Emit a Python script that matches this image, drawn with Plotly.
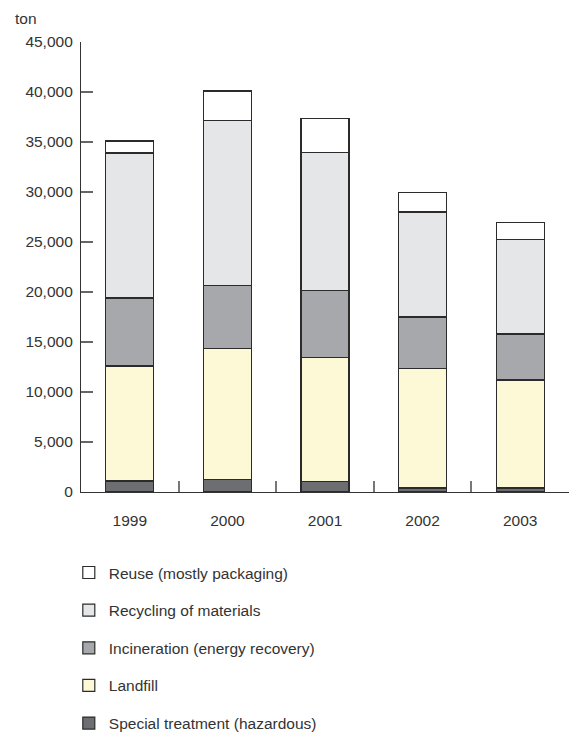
import plotly.graph_objects as go

# Waste volumes by treatment method, tonnes per year
years = ["1999", "2000", "2001", "2002", "2003"]
special_treatment = [1100, 1270, 1030, 400, 400]
landfill = [11500, 13060, 12400, 11970, 10800]
incineration = [6800, 6300, 6700, 5130, 4600]
recycling = [14500, 16500, 13840, 10500, 9430]
reuse = [1200, 2970, 3400, 1930, 1700]

y_ticks = [0, 5000, 10000, 15000, 20000, 25000, 30000, 35000, 40000, 45000]
y_tick_text = ["0", "5,000", "10,000", "15,000", "20,000", "25,000",
               "30,000", "35,000", "40,000", "45,000"]

# stacked from bottom to top; legend lists them top to bottom
series = [
    ("Special treatment (hazardous)", special_treatment, "#6d6e71"),
    ("Landfill", landfill, "#fdf9d6"),
    ("Incineration (energy recovery)", incineration, "#a7a8ab"),
    ("Recycling of materials", recycling, "#e5e6e8"),
    ("Reuse (mostly packaging)", reuse, "#ffffff"),
]

FONT = "Liberation Sans, Arial, Helvetica, sans-serif"
TEXT = "#333333"
FS = 15.5

fig = go.Figure()
n = len(series)
for i, (name, vals, color) in enumerate(series):
    fig.add_trace(go.Bar(
        x=years, y=vals, name=name,
        legendgroup=f"g{i}",
        legendrank=n - i,
        marker=dict(color=color, line=dict(color="#2b2b2b", width=1.2)),
        width=0.49,
    ))

fig.update_layout(
    barmode="stack",
    width=569, height=732,
    margin=dict(l=81, r=0, t=42, b=240, autoexpand=False),
    paper_bgcolor="white", plot_bgcolor="white",
    font=dict(family=FONT, size=FS, color=TEXT),
    showlegend=True,
    legend=dict(
        traceorder="grouped",
        tracegroupgap=14.5,
        x=-0.025, xanchor="left",
        y=-0.142, yanchor="top",
        font=dict(family=FONT, size=FS, color=TEXT),
        bgcolor="rgba(0,0,0,0)",
    ),
    annotations=[dict(
        text="ton", x=(13 - 81) / 488, y=(492 - 18) / 450,
        xref="paper", yref="paper",
        showarrow=False, xanchor="left", yanchor="middle",
        font=dict(family=FONT, size=FS, color=TEXT),
    )],
)

fig.update_yaxes(
    range=[0, 45000],
    tickvals=y_ticks, ticktext=y_tick_text,
    ticks="inside", ticklen=12, tickwidth=1.5, tickcolor="#666666",
    showline=True, linecolor="#333333", linewidth=1.2,
    showgrid=False, zeroline=False,
    ticklabelstandoff=4,
)
fig.update_xaxes(
    range=[-0.5, 4.5],
    tickson="boundaries",
    ticks="inside", ticklen=11, tickwidth=1.5, tickcolor="#777777",
    showline=True, linecolor="#333333", linewidth=1.2,
    showgrid=False, zeroline=False,
    ticklabelstandoff=14,
)

fig.write_html("out.html")
